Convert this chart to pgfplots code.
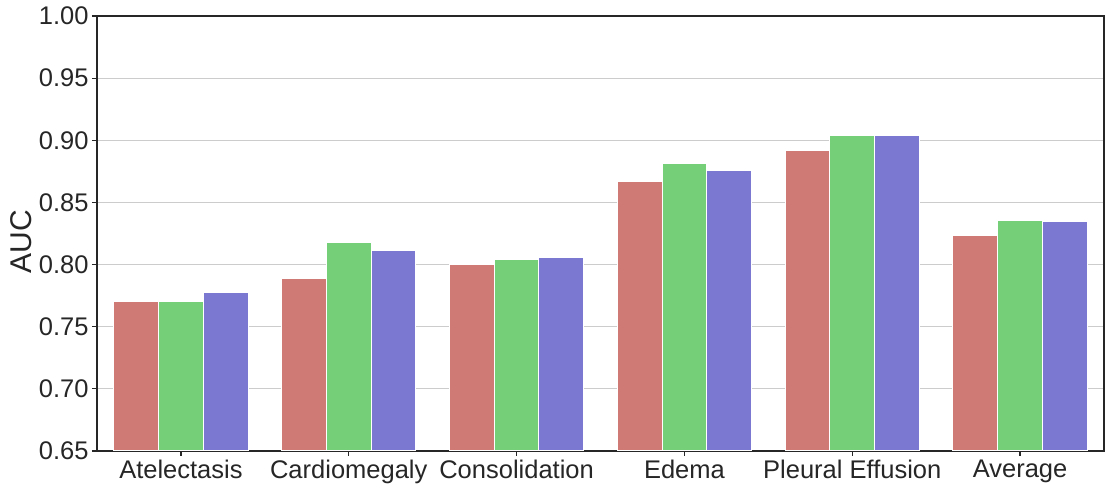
\documentclass[border=0pt]{standalone}
\usepackage{pgfplots}
\pgfplotsset{compat=1.18}
\usepackage{fontspec}
\setmainfont{Liberation Sans}
\definecolor{cred}{HTML}{CF7A75}
\definecolor{cgreen}{HTML}{75CF79}
\definecolor{cblue}{HTML}{7B78D1}
\definecolor{spine}{HTML}{262626}
\pgfplotsset{
  layers/mylayers/.define layer set={axis background,axis grid,main,axis ticks,axis lines,axis tick labels,axis descriptions,axis foreground}{},
}
\begin{document}
\begin{tikzpicture}
\begin{axis}[
  set layers=mylayers,
  scale only axis,
  width=1007pt, height=435pt,
  xmin=-0.5, xmax=5.5,
  ymin=0.65, ymax=1.00,
  ytick={0.65,0.70,0.75,0.80,0.85,0.90,0.95,1.00},
  yticklabel style={/pgf/number format/fixed,/pgf/number format/precision=2,/pgf/number format/fixed zerofill},
  /pgf/number format/assume math mode=true,
  xtick=data,
  xticklabels={Atelectasis,Cardiomegaly,Consolidation,Edema,Pleural Effusion,Average},
  ybar=0pt,
  bar width=44.76pt,
  ymajorgrids,
  grid style={line width=1pt, color=black!20},
  axis line style={line width=1.25pt, color=spine},
  tick align=outside,
  major tick length=5pt,
  tick style={line width=1.25pt, color=spine},
  ytick pos=left, xtick pos=bottom,
  ticklabel style={font=\fontsize{25.5}{30}\selectfont, text=spine},
  ylabel={AUC},
  ylabel style={font=\fontsize{30}{34}\selectfont, text=spine, xshift=-8pt},
  every axis plot/.append style={draw=white, line width=1pt},
  enlargelimits=false,
]
\addplot[fill=cred] coordinates {(0,0.770) (1,0.789) (2,0.800) (3,0.867) (4,0.892) (5,0.823)};
\addplot[fill=cgreen] coordinates {(0,0.770) (1,0.818) (2,0.804) (3,0.881) (4,0.9035) (5,0.8355)};
\addplot[fill=cblue] coordinates {(0,0.7777) (1,0.811) (2,0.806) (3,0.876) (4,0.9035) (5,0.835)};
\coordinate (sw) at (rel axis cs:0,0);
\end{axis}
\path (sw) ++(-97pt,-41pt) rectangle ++(1109pt,492pt);
\end{tikzpicture}
\end{document}
